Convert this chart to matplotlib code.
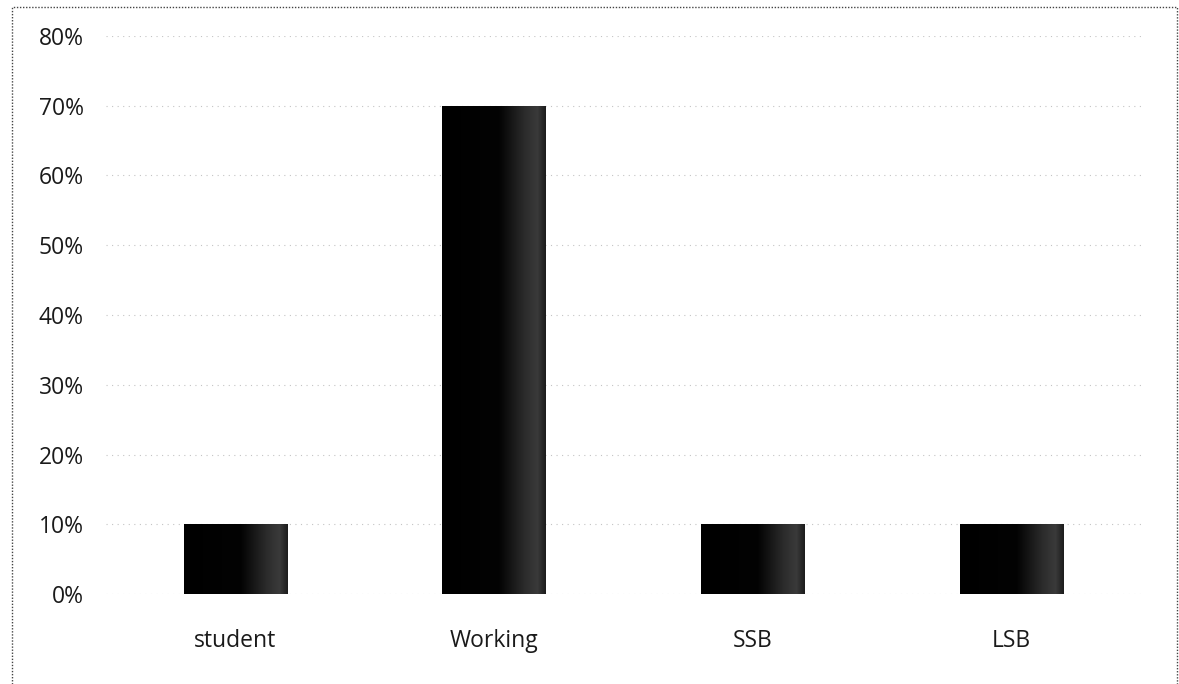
import numpy as np
import matplotlib
matplotlib.use("Agg")
import matplotlib.pyplot as plt
from matplotlib.ticker import PercentFormatter
from matplotlib.colors import LinearSegmentedColormap

categories = ["student", "Working", "SSB", "LSB"]
shares = [10, 70, 10, 10]
y_ticks = [0, 10, 20, 30, 40, 50, 60, 70, 80]

plt.rcParams["font.family"] = ["Open Sans", "DejaVu Sans"]

W, H = 1179, 684
fig = plt.figure(figsize=(W / 100, H / 100), dpi=100)
ax = fig.add_axes([106 / W, 1 - 594 / H, 1035 / W, 558 / H])

x = np.arange(len(categories))
bars = ax.bar(x, shares, width=0.4, color="black", zorder=3)

# soft grey sheen toward the right side of each bar, clipped to the bar outline
sheen = LinearSegmentedColormap.from_list(
    "sheen", [(0.0, "#000000"), (0.55, "#030303"), (0.8, "#2c2c2c"),
              (0.92, "#3a3a3a"), (1.0, "#1c1c1c")])
grad = np.linspace(0, 1, 256).reshape(1, -1)
for b in bars:
    x0, y0 = b.get_x(), b.get_y()
    im = ax.imshow(grad, cmap=sheen, aspect="auto", zorder=4,
                   extent=[x0, x0 + b.get_width(), y0, y0 + b.get_height()])
    im.set_clip_path(b)

ax.set_xlim(-0.5, len(categories) - 0.5)
ax.set_ylim(0, 80)
ax.set_yticks(y_ticks)
ax.yaxis.set_major_formatter(PercentFormatter(decimals=0))
ax.set_xticks(x)
ax.set_xticklabels(categories)

ax.grid(axis="y", color="#c4c4c4", linestyle=(0, (1, 4)), linewidth=0.8, zorder=0)
for s in ax.spines.values():
    s.set_visible(False)
ax.tick_params(axis="both", length=0, labelsize=16.5, colors="#1a1a1a")
ax.tick_params(axis="y", pad=16)
ax.tick_params(axis="x", pad=25)

# dotted frame around the chart area, open at the bottom edge
fx0, fx1, fy0 = 12 / W, 1177 / W, 1 - 7 / H
fig.add_artist(plt.Line2D([fx0, fx0, fx1, fx1], [0, fy0, fy0, 0],
                          transform=fig.transFigure, color="#444444",
                          linestyle=(0, (1, 1.2)), linewidth=1.0))

fig.savefig("out.png", dpi=100, facecolor="white")
